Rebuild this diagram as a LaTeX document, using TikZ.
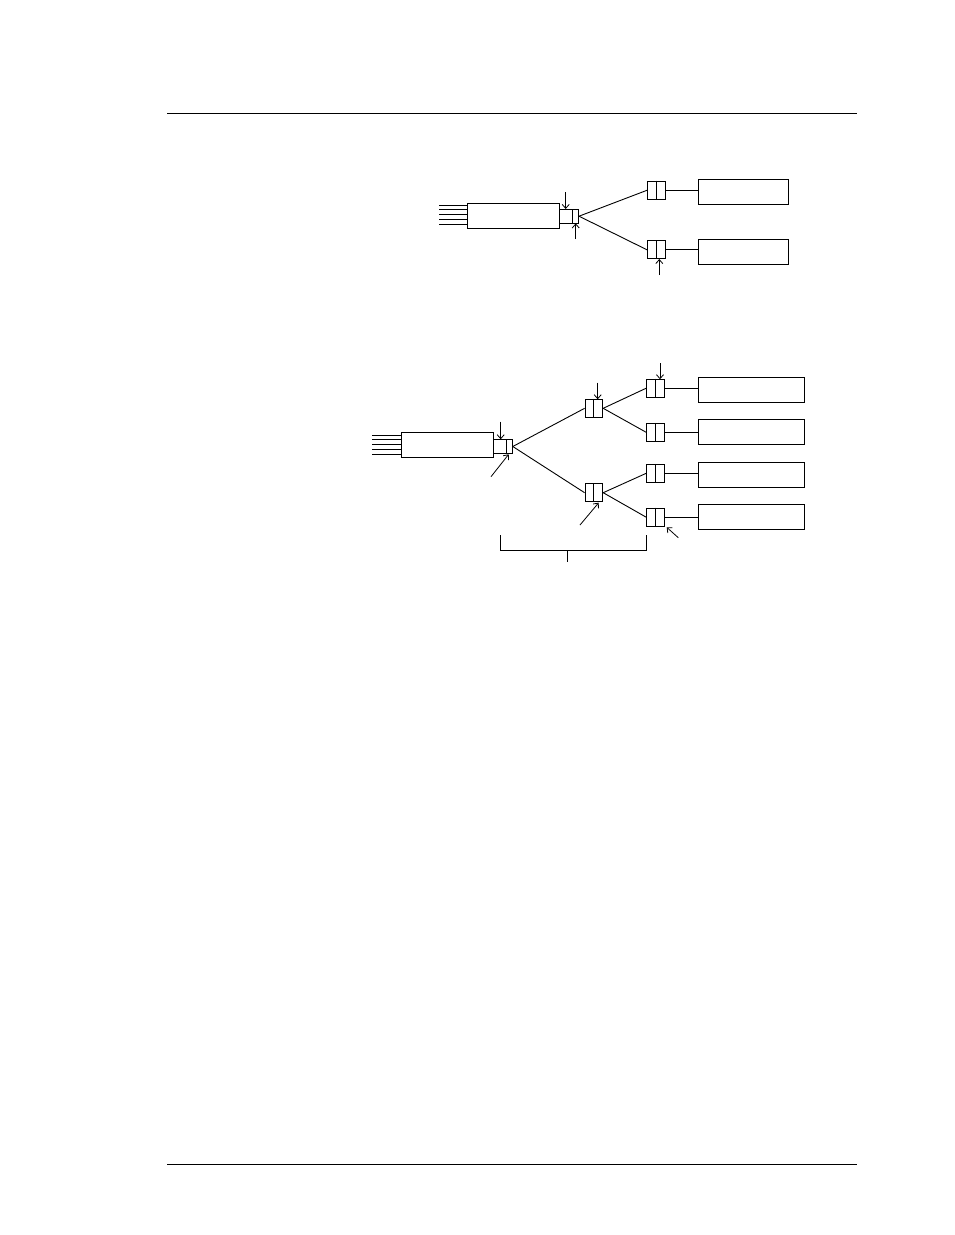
\documentclass[tikz,border=0pt]{standalone}
\usepackage{tikz}
\usetikzlibrary{arrows.meta, calc}

\begin{document}
\begin{tikzpicture}[
    x=1pt, y=-1pt,
    line width=0.9pt,
    laser/.style={rectangle, draw, line width=1.1pt, minimum width=92pt, minimum height=25pt, inner sep=0pt},
    outbox/.style={rectangle, draw, line width=1.1pt, minimum height=25pt, inner sep=0pt},
    plug/.style={rectangle, draw, line width=1pt, minimum width=17.6pt, minimum height=18pt, inner sep=0pt},
    ferrule/.style={rectangle, draw, line width=1pt, minimum width=19pt, minimum height=14.4pt, inner sep=0pt},
    fiber/.style={line width=0.9pt},
    marker/.style={-{Straight Barb[length=4pt, width=7pt]}, line width=0.8pt}
]
\useasboundingbox (0,0) rectangle (954,1235);

% Page rules
\draw[line width=1pt] (167,113) -- (857,113);
\draw[line width=1pt] (167,1164) -- (857,1164);

% Top: 1x2 split
\node[laser] (lsrA) at (513.2,215.8) {};
\node[ferrule] (fA) at (569,216.2) {};
\draw (572.3,209) -- (572.3,223.4);
\foreach \dy in {-10.8,-6.2,-1.5,3.5,8.2}
    \draw[fiber] ($(lsrA.west)+(0,\dy)$) -- ++(-28,0);

\node[plug] (pA1) at (656.5,190.2) {};
\node[plug] (pA2) at (656.5,249.9) {};
\draw (pA1.north) -- (pA1.south);
\draw (pA2.north) -- (pA2.south);

\node[outbox, minimum width=90pt] (oA1) at (743.3,191.7) {};
\node[outbox, minimum width=90pt] (oA2) at (743.3,251.7) {};

\draw (fA.east) -- (pA1.west);
\draw (fA.east) -- (pA2.west);
\draw (pA1.east) -- (pA1.east -| oA1.west);
\draw (pA2.east) -- (pA2.east -| oA2.west);

\draw[marker] (565.7,192) -- (565.7,209);
\draw[marker] (575.7,239) -- (575.7,223.4);
\draw[marker] (659.3,275) -- (659.3,259);

% Bottom: 1x4 split, two stages
\node[laser] (lsrB) at (447.2,444.8) {};
\node[ferrule] (fB) at (502.8,446.5) {};
\draw (506.3,439.3) -- (506.3,453.7);
\foreach \dy in {-9.8,-5.1,-0.1,4.5,9.5}
    \draw[fiber] ($(lsrB.west)+(0,\dy)$) -- ++(-28.3,0);

\node[plug] (mB1) at (593.9,408.3) {};
\node[plug] (mB2) at (593.9,492.7) {};
\draw (mB1.north) -- (mB1.south);
\draw (mB2.north) -- (mB2.south);

\foreach \i/\y in {1/388.2, 2/432.3, 3/473.3, 4/517.2} {
    \node[plug] (pB\i) at (655.5,\y) {};
    \draw (pB\i.north) -- (pB\i.south);
}
\foreach \i/\y in {1/389.8, 2/432.3, 3/474.8, 4/516.8}
    \node[outbox, minimum width=106pt] (oB\i) at (751.3,\y) {};

\draw (fB.east) -- (mB1.west);
\draw (fB.east) -- (mB2.west);
\draw (mB1.east) -- (pB1.west);
\draw (mB1.east) -- (pB2.west);
\draw (mB2.east) -- (pB3.west);
\draw (mB2.east) -- (pB4.west);
\foreach \i in {1,...,4}
    \draw (pB\i.east) -- (pB\i.east -| oB\i.west);

\draw[marker] (500.7,421.7) -- (500.7,439.3);
\draw[marker] (491,476.7) -- (508.7,454.3);
\draw[marker] (597.7,382.7) -- (597.7,399.3);
\draw[marker] (580,525) -- (598.7,502.7);
\draw[marker] (660,363.3) -- (660,379.3);
\draw[marker] (678.3,537.7) -- (666.7,527.3);

% Bracket under the split stages
\draw (500.3,535) |- (646,550.7) -- (646,535);
\draw (567.7,550.7) -- (567.7,562.3);

\end{tikzpicture}
\end{document}
